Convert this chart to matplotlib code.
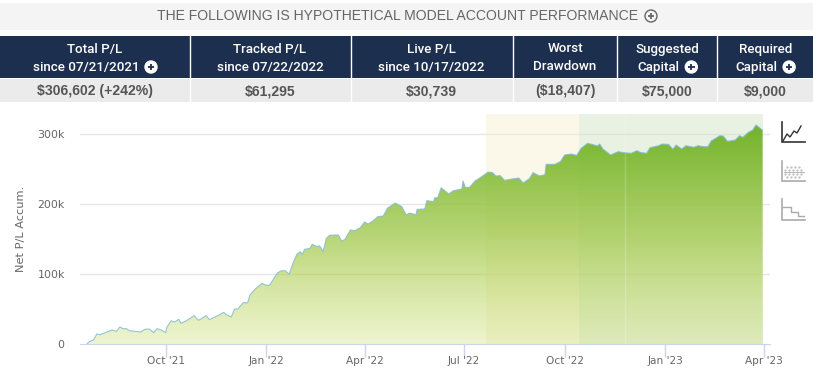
import numpy as np
import matplotlib
matplotlib.use('Agg')
import matplotlib.pyplot as plt
import matplotlib.dates as mdates
from matplotlib.colors import LinearSegmentedColormap
from matplotlib.patches import Circle, PathPatch, Rectangle
from matplotlib.path import Path

# --- data ---
start_date = '2021-07-21'
days = [0, 2, 6, 9, 12, 15, 18, 23, 27, 30, 33, 36, 39, 44, 49, 53, 57, 61, 64, 68, 72, 73, 77, 80, 84, 86,
        91, 98, 102, 109, 112, 119, 125, 128, 132, 135, 138, 141, 143, 147, 149, 154, 160, 163, 167, 171,
        174, 177, 181, 185, 189, 192, 195, 197, 199, 204, 206, 210, 213, 216, 219, 222, 227, 230, 233, 236,
        241, 245, 250, 254, 257, 262, 266, 271, 275, 282, 288, 292, 295, 301, 302, 309, 311, 317, 318, 321,
        324, 331, 335, 343, 344, 346, 350, 355, 361, 367, 371, 374, 378, 382, 387, 395, 399, 405, 408, 414,
        419, 420, 428, 433, 437, 443, 448, 452, 458, 463, 467, 469, 472, 479, 486, 491, 498, 503, 506, 512,
        515, 523, 526, 532, 536, 539, 544, 548, 555, 559, 564, 568, 571, 579, 582, 586, 593, 597, 600, 605,
        609, 612, 617, 618]
net_pl = [0, 3.3, 5.7, 14.3, 13.3, 15.2, 17.1, 20, 18.1, 24.3, 21.9, 21.9, 19, 18.1, 17.1, 21, 21.4, 16.2, 21.9,
          20, 16.2, 23.8, 33.3, 31.4, 35.2, 29.5, 33.3, 40.5, 33.8, 40.5, 34.8, 40, 45.2, 41.4, 38.6, 50, 50,
          55.7, 59, 59, 70, 78.6, 86.7, 84.3, 83.8, 93.8, 101, 104.3, 104.8, 100, 117.6, 128.1, 131.9, 128.1,
          135.2, 136.7, 142.4, 139.5, 140, 131.9, 151, 155.2, 155.7, 155.7, 147.1, 149.5, 162.9, 161.9, 166.2,
          174.3, 171.4, 176.2, 181.9, 182.9, 194.3, 201.4, 196.2, 184.3, 187.1, 184.8, 192.4, 192.9, 204.8,
          203.3, 208.6, 209.5, 223.3, 214.3, 219, 221.4, 232.9, 223.8, 223.8, 232.9, 239, 245.7, 244.8, 240,
          240.5, 233.8, 235.2, 237.1, 230, 236.7, 244.8, 240, 241.9, 256.7, 256.7, 260.5, 270, 271.4, 269.5,
          279.5, 286.7, 284.8, 282.9, 285.7, 278.6, 270, 274.8, 273.3, 272.4, 276.2, 273.8, 272.4, 280.5,
          283.3, 285.7, 285.2, 278.1, 284.3, 278.6, 283.3, 281, 283.3, 281.9, 281.9, 290, 297.6, 297.1, 289.5,
          291.4, 297.6, 295.2, 302.4, 305.7, 312.9, 306.7, 305.7]

tick_dates = ['2021-10-01', '2022-01-01', '2022-04-01', '2022-07-01', '2022-10-01', '2023-01-01', '2023-04-01']
tick_labels = ["Oct '21", "Jan '22", "Apr '22", "Jul '22", "Oct '22", "Jan '23", "Apr '23"]
y_ticks = [0, 100, 200, 300]
y_labels = ['0', '100k', '200k', '300k']

# the two shaded periods
tracked_start = '2022-07-21'
live_start = '2022-10-14'
band_split = '2022-11-25'
band_end = '2023-03-31'

title = 'THE FOLLOWING IS HYPOTHETICAL MODEL ACCOUNT PERFORMANCE'
head_top = ['Total P/L', 'Tracked P/L', 'Live P/L', 'Worst', 'Suggested', 'Required']
head_bot = ['since 07/21/2021', 'since 07/22/2022', 'since 10/17/2022', 'Drawdown', 'Capital', 'Capital']
head_vals = ['$306,602 (+242%)', '$61,295', '$30,739', '($18,407)', '$75,000', '$9,000']
has_icon = [True, False, False, False, True, True]
cell_edges = [0, 189.5, 350.5, 512.7, 617.3, 717.3, 813]

W, H = 813, 379
fig = plt.figure(figsize=(W / 100, H / 100), dpi=100)

# --- chart ---
ax = fig.add_axes([80 / W, 1 - 344 / H, 690 / W, 230 / H])
x = mdates.date2num(np.datetime64(start_date)) + np.array(days, dtype=float)
y = np.array(net_pl)
num = lambda s: mdates.date2num(np.datetime64(s))

for v in y_ticks[1:]:
    ax.axhline(v, color='#E6E6E6', lw=1, zorder=0)
ax.axvspan(num(tracked_start), num(live_start), color='#F8F2D8', alpha=0.55, lw=0, zorder=1)
ax.axvspan(num(live_start), num(band_end), color='#CFE3C4', alpha=0.48, lw=0, zorder=1)

# green gradient clipped to the area under the curve
cmap = LinearSegmentedColormap.from_list('pl', [(0.76, 0.85, 0.34, 0.28), (0.62, 0.78, 0.28, 0.76),
                                                (0.44, 0.70, 0.16, 1.0)])
grad = np.linspace(1, 0, 256).reshape(-1, 1)
im = ax.imshow(grad, cmap=cmap, aspect='auto', extent=[x[0], x[-1], 0, 315], zorder=2)
ax.set_xlim(x[0] - 6.4, x[0] + 624.8)
ax.set_ylim(0, 328.6)
verts = [(x[0], 0)] + list(zip(x, y)) + [(x[-1], 0)]
clip = PathPatch(Path(verts), transform=ax.transData, fc='none', ec='none')
ax.add_patch(clip)
im.set_clip_path(clip)

ax.axvline(num(band_split), color='white', alpha=0.2, lw=1, zorder=3)
ax.plot(x, y, color='#86BBD6', lw=0.8, alpha=0.85, zorder=4)

ax.set_xticks([num(d) for d in tick_dates])
ax.set_xticklabels(tick_labels)
ax.set_yticks(y_ticks)
ax.set_yticklabels(y_labels)
ax.tick_params(axis='x', length=9, width=1, color='#CCD6EB', labelsize=7.6, labelcolor='#666666', pad=-0.5)
ax.tick_params(axis='y', length=0, labelsize=7.9, labelcolor='#666666', pad=11)
for side in ['top', 'right', 'left']:
    ax.spines[side].set_visible(False)
ax.spines['bottom'].set_color('#CCD6EB')
ax.set_ylabel('Net P/L Accum.', fontsize=8.2, color='#666666')
ax.yaxis.set_label_coords((26 - 80) / 690, 0.5)

# --- header and icons, in pixel coordinates ---
ov = fig.add_axes([0, 0, 1, 1], zorder=5)
ov.set_xlim(0, W)
ov.set_ylim(H, 0)
ov.axis('off')


def plus_icon(cx, cy, r, fc, ec, plus):
    ov.add_patch(Circle((cx, cy), r, fc=fc, ec=ec, lw=1))
    ov.plot([cx - r * 0.55, cx + r * 0.55], [cy, cy], color=plus, lw=1.3, solid_capstyle='butt')
    ov.plot([cx, cx], [cy - r * 0.55, cy + r * 0.55], color=plus, lw=1.3, solid_capstyle='butt')


ov.add_patch(Rectangle((0, 3), W, 27, fc='#F4F4F4', ec='none'))
ov.text(397.5, 16.5, title, family='Liberation Sans', fontsize=10.1, color='#666666', ha='center', va='center')
plus_icon(651, 16, 6, 'none', '#666666', '#666666')

ov.add_patch(Rectangle((0, 36), W, 42, fc='#1D2F4F', ec='none'))
ov.add_patch(Rectangle((0, 79), W, 23, fc='#EBEBEB', ec='none'))

for i in range(6):
    left, right = cell_edges[i], cell_edges[i + 1]
    cx = (left + right) / 2
    if i > 0:
        ov.plot([left, left], [36, 103], color='white', lw=1)
    ov.text(cx, 49, head_top[i], family='Roboto', fontweight='medium', fontsize=9.6, color='white',
            ha='center', va='center')
    shift = 9 if has_icon[i] else 0
    t = ov.text(cx - shift, 67, head_bot[i], family='Roboto', fontweight='medium', fontsize=9.6, color='white',
                ha='center', va='center')
    if has_icon[i]:
        bb = t.get_window_extent(fig.canvas.get_renderer())
        plus_icon(bb.x1 + 12, 67, 6, 'white', 'white', '#1D2F4F')
    ov.text(cx, 91.5, head_vals[i], family='Liberation Sans', fontweight='bold', fontsize=10.1, color='#555555',
            ha='center', va='center')

# chart type switches on the right
for top, col in [(121.7, '#333333'), (160.7, '#AAAAAA'), (199.3, '#AAAAAA')]:
    ov.plot([781.7, 781.7, 805], [top, top + 20.7, top + 20.7], color=col, lw=1.2, solid_joinstyle='miter')
ov.plot([783, 787, 790, 794, 797, 801], [141, 134, 137, 131, 133, 126], color='#333333', lw=1)
ov.plot([784, 790, 797, 804], [171.7, 171.7, 171.7, 171.7], color='#BBBBBB', lw=0.8)
ov.plot([785, 789, 793, 797, 801, 787, 791, 795, 799, 785, 789, 793, 797, 801, 787, 791, 795, 799],
        [170, 170, 170, 170, 170, 166.5, 166.5, 166.5, 166.5, 174, 174, 174, 174, 174, 177, 177, 177, 177],
        ls='none', marker='.', ms=1.2, color='#BBBBBB')
ov.plot([783, 790.5, 790.5, 798, 798, 804], [207, 207, 212, 212, 216, 216], color='#AAAAAA', lw=1)

fig.savefig('out.png', dpi=100)
